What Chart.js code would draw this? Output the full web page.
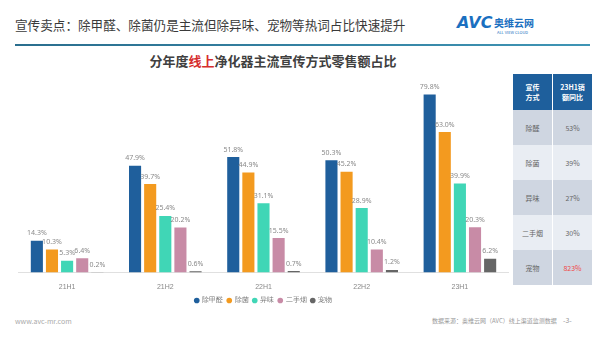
<!DOCTYPE html>
<html>
<head>
<meta charset="utf-8">
<script src="https://cdn.jsdelivr.net/npm/chart.js@4"></script>
<style>
  body { margin: 0; width: 600px; height: 338px; background: #fff; font-family: "Noto Sans CJK SC", "Noto Sans", sans-serif; position: relative; overflow: hidden; }
  #head { position: absolute; left: 15px; top: 15px; font-size: 12.6px; color: #3a3a3a; }
  #logo { position: absolute; left: 457px; top: 13px; font-size: 16px; font-weight: bold; color: #1a6fc0; font-family: "DejaVu Sans", sans-serif; font-style: italic; }
  #logo2 { position: absolute; left: 494px; top: 15px; font-size: 10px; font-weight: bold; color: #1a6fc0; }
  #logo3 { position: absolute; left: 497px; top: 29px; font-size: 4px; color: #1a6fc0; }
  #rule { position: absolute; left: 15px; top: 44px; width: 575px; height: 2px; background: linear-gradient(90deg, #2a6e8e, #3f95b5); }
  #ctitle { position: absolute; left: 0; width: 546px; text-align: center; top: 51px; font-size: 13px; font-weight: bold; color: #404040; }
  #ctitle span { color: #d62d2d; }
  #wrap { position: absolute; left: 8px; top: 74px; width: 501px; height: 240px; }
  table { position: absolute; left: 513px; top: 74px; border-collapse: collapse; font-size: 7px; color: #666; }
  td { width: 37px; text-align: center; border-right: 1px solid #fff; }
  td:last-child { border-right: none; }
  tr.h td { background: #1e5f9c; color: #fff; height: 34px; font-weight: bold; line-height: 10px; }
  tr.a td { background: #cfd6e1; height: 33px; }
  tr.b td { background: #e9edf3; height: 33px; }
  .red { color: #f04848; }
  #foot1 { position: absolute; left: 15px; top: 316px; font-size: 7px; color: #aaa; }
  #foot2 { position: absolute; left: 432px; top: 316px; font-size: 6px; color: #999; }
  #foot3 { position: absolute; left: 563px; top: 315px; font-size: 7px; color: #999; }
</style>
</head>
<body>
<div id="head">宣传卖点：除甲醛、除菌仍是主流但除异味、宠物等热词占比快速提升</div>
<div id="logo">AVC</div>
<div id="logo2">奥维云网</div>
<div id="logo3">ALL VIEW CLOUD</div>
<div id="rule"></div>
<div id="ctitle">分年度<span>线上</span>净化器主流宣传方式零售额占比</div>
<div id="wrap"><canvas id="c"></canvas></div>
<table>
  <tr class="h"><td>宣传<br>方式</td><td>23H1销<br>额同比</td></tr>
  <tr class="a"><td>除醛</td><td>53%</td></tr>
  <tr class="b"><td>除菌</td><td>39%</td></tr>
  <tr class="a"><td>异味</td><td>27%</td></tr>
  <tr class="b"><td>二手烟</td><td>30%</td></tr>
  <tr class="a"><td>宠物</td><td class="red">823%</td></tr>
</table>
<div id="foot1">www.avc-mr.com</div>
<div id="foot2">数据来源：奥维云网（AVC）线上渠道监测数据</div>
<div id="foot3">-3-</div>
<script>
const periods = ['21H1', '21H2', '22H1', '22H2', '23H1'];
const seriesNames = ['除甲醛', '除菌', '异味', '二手烟', '宠物'];
const chujiaquan = [14.3, 47.9, 51.8, 50.3, 79.8];
const chujun = [10.3, 39.7, 44.9, 45.2, 63.0];
const yiwei = [5.3, 25.4, 31.1, 28.9, 39.9];
const ershouyan = [6.4, 20.2, 15.5, 10.4, 20.3];
const chongwu = [0.2, 0.6, 0.7, 1.2, 6.2];
const colors = ['#1f5f9c', '#f39a1f', '#40d6b6', '#c88ba6', '#666666'];

const valueLabels = {
    id: 'valueLabels',
    afterDatasetsDraw(chart) {
        const ctx = chart.ctx;
        ctx.save();
        ctx.font = '7px "Noto Sans", sans-serif';
        ctx.fillStyle = '#8a8a8a';
        ctx.textAlign = 'center';
        ctx.textBaseline = 'bottom';
        chart.data.datasets.forEach((ds, i) => {
            chart.getDatasetMeta(i).data.forEach((bar, j) => {
                ctx.fillText(ds.data[j].toFixed(1) + '%', bar.x, bar.y - 4);
            });
        });
        ctx.restore();
    }
};

new Chart(document.getElementById('c'), {
    type: 'bar',
    data: {
        labels: periods,
        datasets: [chujiaquan, chujun, yiwei, ershouyan, chongwu].map((d, i) => ({
            label: seriesNames[i],
            data: d,
            backgroundColor: colors[i],
            barPercentage: 0.8,
            categoryPercentage: 0.77
        }))
    },
    options: {
        responsive: true,
        maintainAspectRatio: false,
        animation: false,
        layout: { padding: { left: 10, right: 0, top: 0, bottom: 0 } },
        scales: {
            x: {
                grid: { display: false },
                border: { color: '#e0e0e0' },
                ticks: { color: '#888', font: { size: 7 }, padding: 2 }
            },
            y: { display: false, min: 0, max: 89 }
        },
        plugins: {
            legend: {
                position: 'bottom',
                labels: { usePointStyle: true, pointStyle: 'circle', boxWidth: 4, boxHeight: 4, padding: 4, color: '#777', font: { size: 7 } }
            },
            tooltip: { enabled: false }
        }
    },
    plugins: [valueLabels]
});
</script>
</body>
</html>
